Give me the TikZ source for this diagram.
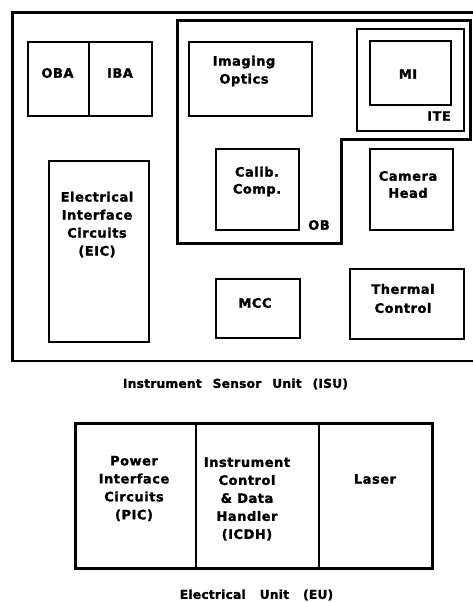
\documentclass[tikz,border=0pt]{standalone}
\usepackage{fontspec}
\newfontfamily\boxfont[LetterSpace=4,BoldFeatures={FakeBold=1.5}]{DejaVu Sans}
\newfontfamily\capfont[LetterSpace=2,BoldFeatures={FakeBold=1.5}]{DejaVu Sans}
\begin{document}
\begin{tikzpicture}[x=1pt,y=-1pt,
  box/.style={draw,line width=2.2pt,inner sep=0pt,anchor=north west},
  lab/.style={font=\boxfont\bfseries\fontsize{13}{18}\selectfont,align=center,inner sep=0pt},
  caption/.style={font=\capfont\bfseries\fontsize{12.2}{14}\selectfont,inner sep=0pt},
  thick line/.style={line width=3pt}]
\useasboundingbox (0,0) rectangle (472,602);
% ISU outer (right side runs off the picture)
\coordinate (isuTR) at (474,12.5);
\coordinate (isuBR) at (474,361);
\draw[line width=2.5pt] (isuTR) -- (12.5,12.5) -- (12.5,361) -- (isuBR);
% OBA / IBA
\node[box,minimum width=124pt,minimum height=74pt] (obaiba) at (27,41) {};
\coordinate (divtop) at (89,41);
\coordinate (divbot) at (89,115);
\draw[line width=1.8pt] (divtop) -- (divbot);
\node[lab] (oba) at (57.5,73) {OBA};
\node[lab] (iba) at (120,73) {IBA};
% EIC
\node[box,minimum width=100pt,minimum height=181pt] (eic) at (48,160) {};
\node[lab] (eictext) at (97,224.5) {Electrical\\Interface\\Circuits\\(EIC)};
% OB outline
\draw[thick line] (177,21) -- (470,21) -- (470,139) -- (341,139) -- (341,243) -- (177,243) -- cycle;
\node[lab] (ob) at (319,225) {OB};
% Imaging optics
\node[box,minimum width=123pt,minimum height=74pt] (io) at (188,41) {};
\node[lab] (iotext) at (244,71) {Imaging\\Optics};
% Calib comp
\node[box,minimum width=83pt,minimum height=81pt] (cc) at (215,148) {};
\node[lab,font=\boxfont\bfseries\fontsize{13}{17}\selectfont] (cctext) at (257,181.5) {Calib.\\Comp.};
% ITE and MI
\node[draw,line width=2pt,inner sep=0pt,anchor=north west,minimum width=107pt,minimum height=102pt] (ite) at (356,28) {};
\node[box,minimum width=81pt,minimum height=64pt] (mi) at (369,40) {};
\node[lab] (mitext) at (408,74) {MI};
\node[lab] (itetext) at (439,116) {ITE};
% Camera head
\node[box,minimum width=83pt,minimum height=81pt] (ch) at (369,148) {};
\node[lab,font=\boxfont\bfseries\fontsize{13}{17}\selectfont] (chtext) at (408,184.5) {Camera\\Head};
% MCC
\node[box,minimum width=84pt,minimum height=59pt] (mcc) at (215,278) {};
\node[lab] (mcctext) at (255,303) {MCC};
% Thermal control
\node[box,minimum width=114pt,minimum height=70pt] (tc) at (349,268) {};
\node[lab,font=\boxfont\bfseries\fontsize{13}{19}\selectfont] (tctext) at (403,298.5) {Thermal\\Control};
% ISU label
\node[caption] (isulabel) at (235.5,384) {Instrument\hspace{11pt}Sensor\hspace{11pt}Unit\hspace{11pt}(ISU)};
% EU
\node[box,line width=2.5pt,minimum width=357pt,minimum height=145pt] (eu) at (74,422) {};
\coordinate (d1t) at (196,422);
\coordinate (d1b) at (196,567);
\coordinate (d2t) at (319,422);
\coordinate (d2b) at (319,567);
\draw[line width=2pt] (d1t) -- (d1b);
\draw[line width=2pt] (d2t) -- (d2b);
\node[lab] (pic) at (134,488.5) {Power\\Interface\\Circuits\\(PIC)};
\node[lab] (icdh) at (247,499) {Instrument\\Control\\\&\hspace{0.4em}Data\\Handler\\(ICDH)};
\node[lab] (laser) at (375,479) {Laser};
\node[caption] (eulabel) at (256.5,595) {Electrical\hspace{14pt}Unit\hspace{14pt}(EU)};
\end{tikzpicture}
\end{document}
